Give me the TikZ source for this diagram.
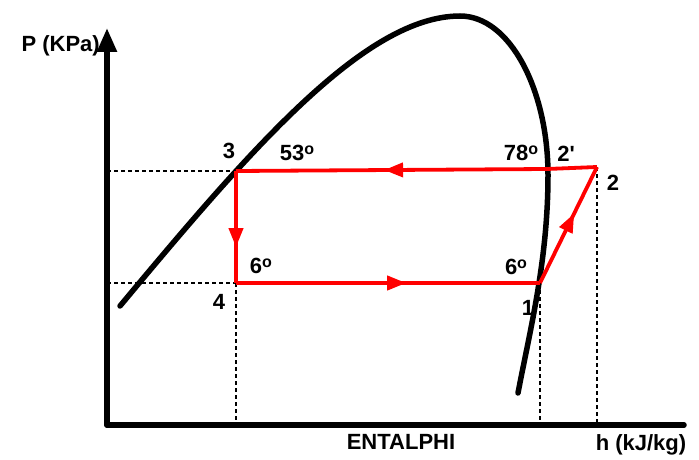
\documentclass[tikz,border=0pt]{standalone}
\usepackage{fontspec}
\setmainfont{Liberation Sans}
\usetikzlibrary{arrows.meta,positioning,calc,decorations.markings}
\newcommand{\degsup}{\raisebox{0.55ex}{\fontsize{16}{16}\selectfont o}}

\begin{document}
\begin{tikzpicture}[
    x=1pt, y=-1pt,
    axis/.style={line width=5.5pt, line cap=round},
    sat/.style={line width=5.5pt, line cap=round},
    cycle/.style={red, line width=3.8pt},
    guide/.style={dash pattern=on 4pt off 3pt, line width=2pt},
    midarrow/.style={postaction={decorate}, decoration={markings,
        mark=at position #1 with {\arrow{Triangle[length=19pt,width=14pt]}}}},
    lbl/.style={font=\fontsize{22}{26}\selectfont\bfseries, inner sep=1pt}
]
\useasboundingbox (0,0) rectangle (699,460);
% state points
\coordinate (o) at (107,425);
\coordinate (p3) at (236,171);
\coordinate (p4) at (236,283);
\coordinate (p1) at (540,283);
\coordinate (p2p) at (547,169);
\coordinate (p2) at (597,167);
\coordinate (ytop) at (107,28);
\coordinate (xend) at (684,425);
% axes
\draw[axis] (o) -- (xend);
\draw[axis, -{Triangle[length=24pt,width=19pt]}] (o) -- (ytop);
% saturation dome
\draw[sat] (120,306) .. controls (250,150) and (365,16) .. (460,16)
    .. controls (510,16) and (548,90) .. (548,175)
    .. controls (548,260) and (530,330) .. (518,393);
% guide lines
\draw[guide] (107,171) -- (p3);
\draw[guide] (107,283) -- (p4);
\draw[guide] (p4) -- (p4 |- o);
\draw[guide] (p1) -- (p1 |- o);
\draw[guide] (p2) -- (p2 |- o);
% cycle
\draw[cycle, midarrow=0.68] (p3) -- (p4);
\draw[cycle, midarrow=0.56] (p4) -- (p1);
\draw[cycle, midarrow=0.6] (p1) -- (p2);
\draw[cycle, midarrow=0.59] (p2) -- (p2p) -- (p3);
% labels
\node[lbl, anchor=east] (ylab) at (101,46) {P (KPa)};
\node[lbl] (l3) at (229,151) {3};
\node[lbl] (t3) at (297,153) {53\degsup};
\node[lbl] (t2p) at (521,153) {78\degsup};
\node[lbl] (l2p) at (566,154) {2\textquotesingle};
\node[lbl] (l2) at (613,183) {2};
\node[lbl] (t4) at (261,266) {6\degsup};
\node[lbl] (t1) at (516,267) {6\degsup};
\node[lbl] (l4) at (219,302) {4};
\node[lbl] (l1) at (528,308) {1};
\node[lbl] (xname) at (401,442) {ENTALPHI};
\node[lbl] (xlab) at (641,445) {h (kJ/kg)};
\end{tikzpicture}
\end{document}
